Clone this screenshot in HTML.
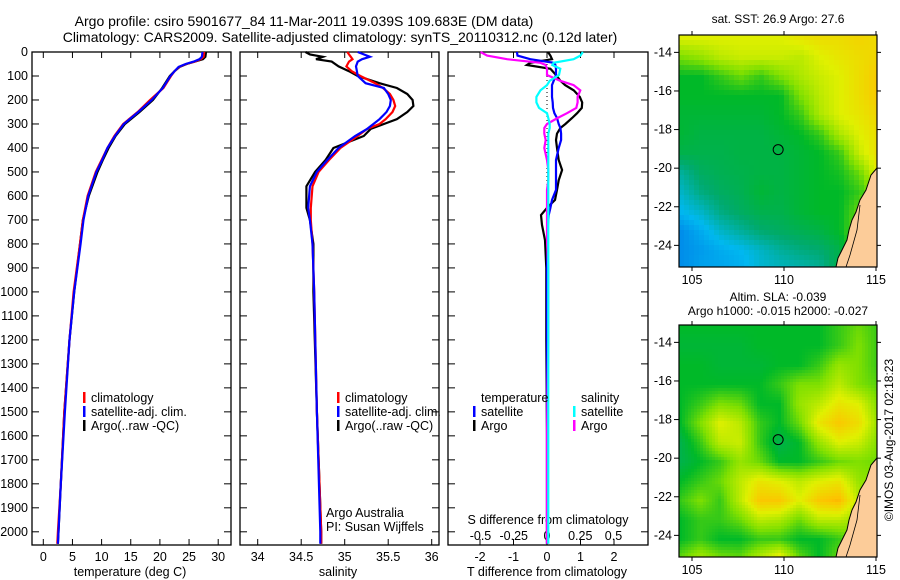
<!DOCTYPE html>
<html><head><meta charset="utf-8">
<style>
body{margin:0;background:#fff;}
svg{display:block;font-family:"Liberation Sans",sans-serif;}
text{fill:#000;}
</style></head>
<body>
<svg id="c" width="900" height="580" viewBox="0 0 900 580">
<text x="304" y="26" font-size="14" text-anchor="middle">Argo profile: csiro 5901677_84 11-Mar-2011 19.039S 109.683E (DM data)</text>
<text x="340" y="42" font-size="14" text-anchor="middle">Climatology: CARS2009. Satellite-adjusted climatology: synTS_20110312.nc (0.12d later)</text>
<g id="g"></g>
</svg>
<script>
// ---- data ----
const tDepth=[0,20,30,40,50,62,80,100,150,200,250,300,350,400,450,500,600,700,800,1000,1200,1500,1800,2000,2050];
const tArgo=[27.9,27.8,27.4,26.0,24.6,23.4,22.5,21.7,20.4,18.8,16.5,14.0,12.4,11.2,10.2,9.3,7.8,6.8,6.3,5.3,4.5,3.6,3.0,2.6,2.5];
const tClim=[27.6,27.5,27.0,26.0,24.5,23.3,22.5,21.9,20.6,18.3,16.2,13.7,12.2,11.0,10.0,9.0,7.6,6.8,6.3,5.2,4.5,3.6,3.0,2.5,2.4];
const tSat=[27.3,27.2,26.8,25.8,24.4,23.2,22.5,21.8,20.5,18.6,16.3,13.8,12.3,11.0,10.1,9.1,7.7,6.9,6.4,5.3,4.5,3.7,3.0,2.6,2.5];
const sDepth=[0,10,20,30,40,60,80,100,130,150,175,200,225,250,280,300,320,350,400,450,500,560,650,700,800,1000,1500,2000,2050];
const sArgo=[34.55,34.6,34.75,34.67,34.85,34.93,35.05,35.15,35.4,35.6,35.72,35.78,35.79,35.72,35.6,35.45,35.3,35.22,34.87,34.78,34.66,34.56,34.56,34.6,34.64,34.64,34.68,34.73,34.73];
const sClim=[35.03,35.05,35.07,35.09,35.05,35.02,35.08,35.18,35.35,35.44,35.52,35.56,35.58,35.55,35.47,35.4,35.26,35.15,34.95,34.82,34.7,34.63,34.61,34.61,34.63,34.65,34.68,34.73,34.73];
const sSat=[35.15,35.22,35.29,35.2,35.15,35.13,35.14,35.15,35.24,35.45,35.5,35.53,35.52,35.48,35.4,35.33,35.26,35.12,34.93,34.8,34.68,34.6,34.58,34.6,34.63,34.65,34.68,34.72,34.72];
const dDepth=[0,15,30,45,54,70,96,120,138,160,187,210,233,255,275,300,317,340,367,400,450,492,535,575,617,650,680,721,784,900,1200,1600,2050];
const dTArgo=[0.03,0.1,0.15,-0.5,-0.6,0.1,0.27,0.4,0.54,0.8,0.98,1.05,1.04,0.9,0.75,0.55,0.4,0.3,0.27,0.3,0.35,0.45,0.35,0.3,0.24,0.0,-0.18,-0.15,-0.06,-0.02,-0.02,0.0,0.0];
const dTSat=[-0.9,-0.88,-0.5,0.2,0.25,0.27,0.27,0.2,0.15,0.15,0.15,0.17,0.18,0.22,0.3,0.35,0.4,0.42,0.42,0.35,0.27,0.27,0.27,0.27,0.15,0.1,0.05,0.03,0.02,0.0,0.0,0.0,0.0];
const dSArgo=[-0.5,-0.45,-0.3,-0.05,-0.01,0.0,0.0,0.1,0.2,0.25,0.23,0.23,0.22,0.15,0.08,0.0,-0.02,-0.02,-0.01,-0.02,0.0,0.01,0.01,0.0,0.0,0.0,0.0,0.0,0.0,0.01,0.01,0.0,0.0];
const dSSat=[0.27,0.25,0.2,0.05,0.04,0.1,0.09,0.02,0.0,-0.05,-0.08,-0.08,-0.06,0.0,0.01,0.02,0.02,0.01,0.01,0.01,0.01,0.01,0.01,0.01,0.01,0.01,0.01,0.01,0.01,0.01,0.01,0.01,0.01];
const depthTicks=[0,100,200,300,400,500,600,700,800,900,1000,1100,1200,1300,1400,1500,1600,1700,1800,1900,2000];
const tTicks=[0,5,10,15,20,25,30];
const sTicks=[34,34.5,35,35.5,36];
const dTTicks=[-2,-1,0,1,2];
const dSTicks=[-0.5,-0.25,0,0.25,0.5];
const lonTicks=[105,110,115];
const latTicks=[-14,-16,-18,-20,-22,-24];
const sstGrid=[
[.75,.75,.75,.75,.75,.75,.78,.8,.8,.82,.8],
[.62,.65,.7,.72,.72,.72,.7,.75,.78,.8,.82],
[.5,.5,.55,.6,.55,.62,.68,.72,.75,.8,.85],
[.5,.5,.5,.5,.5,.5,.62,.7,.75,.8,.85],
[.48,.48,.48,.48,.48,.5,.55,.68,.75,.78,.82],
[.48,.46,.46,.46,.46,.48,.5,.55,.68,.75,.8],
[.45,.45,.45,.46,.46,.46,.48,.5,.55,.72,.8],
[.35,.42,.44,.45,.46,.46,.48,.5,.52,.6,.78],
[.3,.38,.42,.44,.48,.46,.48,.5,.5,.55,.65],
[.25,.3,.38,.42,.45,.45,.48,.5,.5,.6,.9],
[.15,.22,.3,.35,.4,.42,.44,.46,.5,.62,.6],
[.15,.18,.22,.25,.3,.35,.38,.4,.45,.6,.6],
[.15,.2,.2,.22,.28,.3,.32,.35,.45,.6,.6]];
const slaGrid=[
[.5,.5,.5,.5,.5,.5,.5,.5,.55,.6,.55],
[.48,.48,.48,.48,.5,.5,.5,.5,.55,.62,.55],
[.5,.5,.48,.48,.48,.5,.5,.55,.65,.62,.55],
[.5,.5,.5,.5,.5,.55,.62,.62,.7,.62,.58],
[.5,.55,.62,.6,.5,.5,.65,.7,.78,.75,.62],
[.5,.62,.75,.7,.55,.5,.6,.78,.85,.8,.65],
[.45,.55,.7,.72,.55,.45,.5,.65,.75,.72,.62],
[.45,.5,.55,.65,.6,.5,.5,.55,.6,.62,.6],
[.5,.55,.6,.7,.78,.75,.7,.75,.78,.65,.62],
[.55,.62,.55,.7,.85,.85,.75,.85,.88,.7,.6],
[.5,.55,.55,.6,.7,.68,.6,.7,.7,.65,.6],
[.5,.55,.5,.5,.55,.55,.5,.5,.55,.62,.6],
[.6,.68,.62,.6,.7,.8,.6,.5,.6,.65,.6]];

const NS="http://www.w3.org/2000/svg";
const G=document.getElementById('g');
function el(tag,attrs,parent){const e=document.createElementNS(NS,tag);for(const k in attrs)e.setAttribute(k,attrs[k]);(parent||G).appendChild(e);return e;}
function txt(x,y,s,size,anchor,parent){const t=el('text',{x:x,y:y,'font-size':size,'text-anchor':anchor||'middle'},parent);t.textContent=s;return t;}
const Y=d=>52+0.2399*d;
const yTop=52,yBot=545;
const xT=v=>43.3+5.83*v;
const xS=v=>257.7+87*(v-34);
const xD=v=>547+33.5*v;
const xDS=v=>547+133*v;

function frame(x0,x1,name){
  const r=el('rect',{x:x0,y:yTop,width:x1-x0,height:yBot-yTop,fill:'none',stroke:'#000','stroke-width':1.3});
  
  
  depthTicks.forEach(d=>{el('line',{x1:x0,x2:x0+7,y1:Y(d),y2:Y(d),stroke:'#000'});el('line',{x1:x1,x2:x1-7,y1:Y(d),y2:Y(d),stroke:'#000'});});
}
function line(xs,vals,depths,fx,color,name){
  const pts=vals.map((v,i)=>fx(v).toFixed(1)+','+Y(depths[i]).toFixed(1)).join(' ');
  const p=el('polyline',{points:pts,fill:'none',stroke:color,'stroke-width':2.2});
  
  
}
// panel 1
frame(32,231,'temperature-panel');
depthTicks.forEach(d=>{const t=txt(28,Y(d)+4,String(d),12.5,'end');});
tTicks.forEach(v=>{el('line',{x1:xT(v),x2:xT(v),y1:yBot,y2:yBot-6,stroke:'#000'});el('line',{x1:xT(v),x2:xT(v),y1:yTop,y2:yTop+6,stroke:'#000'});const t=txt(xT(v),561,String(v),12.5);});
{const t=txt(130,576,'temperature (deg C)',12.5);}
line(0,tArgo,tDepth,xT,'#000','temperature-argo-line');
line(0,tClim,tDepth,xT,'#f00','temperature-climatology-line');
line(0,tSat,tDepth,xT,'#00f','temperature-satellite-line');
function legend(x,y,items,name){
  const g=el('g',{});
  
  
  items.forEach((it,i)=>{el('rect',{x:x,y:y+i*14-10,width:2.5,height:11,fill:it[1]},g);txt(x+8,y+i*14,it[0],12.5,'start',g);});
}
legend(83,402,[['climatology','#f00'],['satellite-adj. clim.','#00f'],['Argo(..raw -QC)','#000']],'temperature-legend');
// panel 2
frame(240,439,'salinity-panel');
sTicks.forEach(v=>{el('line',{x1:xS(v),x2:xS(v),y1:yBot,y2:yBot-6,stroke:'#000'});el('line',{x1:xS(v),x2:xS(v),y1:yTop,y2:yTop+6,stroke:'#000'});const t=txt(xS(v),561,String(v),12.5);});
{const t=txt(338,576,'salinity',12.5);}
line(0,sArgo,sDepth,xS,'#000','salinity-argo-line');
line(0,sClim,sDepth,xS,'#f00','salinity-climatology-line');
line(0,sSat,sDepth,xS,'#00f','salinity-satellite-line');
legend(337,402,[['climatology','#f00'],['satellite-adj. clim.','#00f'],['Argo(..raw -QC)','#000']],'salinity-legend');
{const t=txt(326,517,'Argo Australia',12.5,'start');}
{const t=txt(326,531,'PI: Susan Wijffels',12.5,'start');}
// panel 3
frame(448,648,'difference-panel');
el('line',{x1:547,x2:547,y1:60,y2:200,stroke:'#000','stroke-dasharray':'1,3'});
dTTicks.forEach(v=>{el('line',{x1:xD(v),x2:xD(v),y1:yBot,y2:yBot-6,stroke:'#000'});el('line',{x1:xD(v),x2:xD(v),y1:yTop,y2:yTop+6,stroke:'#000'});const t=txt(xD(v),561,String(v),12.5);});
dSTicks.forEach(v=>{const t=txt(xDS(v),540,String(v),12.5);});
{const t=txt(548,524,'S difference from climatology',12.5);}
{const t=txt(547,576,'T difference from climatology',12.5);}
line(0,dTArgo,dDepth,xD,'#000','t-diff-argo-line');
line(0,dTSat,dDepth,xD,'#00f','t-diff-satellite-line');
line(0,dSArgo,dDepth,xDS,'#f0f','s-diff-argo-line');
line(0,dSSat,dDepth,xDS,'#0ff','s-diff-satellite-line');
{const g=el('g',{});
 txt(481,402,'temperature',12.5,'start',g);txt(581,402,'salinity',12.5,'start',g);
 el('rect',{x:473,y:406,width:2.5,height:11,fill:'#00f'},g);txt(481,416,'satellite',12.5,'start',g);
 el('rect',{x:473,y:420,width:2.5,height:11,fill:'#000'},g);txt(481,430,'Argo',12.5,'start',g);
 el('rect',{x:573,y:406,width:2.5,height:11,fill:'#0ff'},g);txt(581,416,'satellite',12.5,'start',g);
 el('rect',{x:573,y:420,width:2.5,height:11,fill:'#f0f'},g);txt(581,430,'Argo',12.5,'start',g);}
// maps
const stops=[[0,[0,80,224]],[.25,[0,184,240]],[.4,[0,170,110]],[.5,[0,185,40]],[.62,[128,224,0]],[.75,[224,240,0]],[.87,[255,192,0]],[1,[192,80,0]]];
function cmap(v){v=Math.max(0,Math.min(1,v));for(let i=1;i<stops.length;i++){if(v<=stops[i][0]){const a=stops[i-1],b=stops[i],t=(v-a[0])/(b[0]-a[0]);return 'rgb('+a[1].map((c,k)=>Math.round(c+(b[1][k]-c)*t)).join(',')+')';}}return 'rgb(192,80,0)';}
function interp(grid,fx,fy){const r=fy*(grid.length-1),c=fx*(grid[0].length-1);const r0=Math.min(Math.floor(r),grid.length-2),c0=Math.min(Math.floor(c),grid[0].length-2);const tr=r-r0,tc=c-c0;return grid[r0][c0]*(1-tr)*(1-tc)+grid[r0][c0+1]*(1-tr)*tc+grid[r0+1][c0]*tr*(1-tc)+grid[r0+1][c0+1]*tr*tc;}
const mx0=679,mx1=877;
const lonX=l=>692+18.4*(l-105);
function map(y0,grid,cell,name,t1,t2){
  const y1=y0+232;
  const g=el('g',{});
  
  
  for(let y=y0;y<y1;y+=cell)for(let x=mx0;x<mx1;x+=cell){
    const v=interp(grid,(x-mx0)/(mx1-mx0),(y-y0)/(y1-y0));
    el('rect',{x:x,y:y,width:Math.min(cell,mx1-x)+0.3,height:Math.min(cell,y1-y)+0.3,fill:cmap(v)},g);}
  const o=y0-35;
  if(name==='sst-map')el('polygon',{points:[[877,185],[866,190],[860,200],[856,212],[877,212]].map(p=>p[0]+','+(p[1]+o)).join(' '),fill:'#c05a00'},g);
  const coast=[[877,168],[871,175],[866,190],[860,200],[856,212],[852,220],[849,230],[847,240],[842,250],[838,258],[836,267]];
  el('polygon',{points:coast.concat([[877,267]]).map(p=>p[0]+','+(p[1]+o)).join(' '),fill:'#fccc99',stroke:'#000','stroke-width':1},g);
  el('polyline',{points:[[860,205],[857,230],[850,255],[846,267]].map(p=>p[0]+','+(p[1]+o)).join(' '),fill:'none',stroke:'#000','stroke-width':0.8},g);
  el('rect',{x:mx0,y:y0,width:mx1-mx0,height:232,fill:'none',stroke:'#000','stroke-width':1.2},g);
  latTicks.forEach(l=>{const yy=y0+(-13.1-l)*19.3;el('line',{x1:mx0-5,x2:mx0,y1:yy,y2:yy,stroke:'#000'},g);el('line',{x1:mx1,x2:mx1+4,y1:yy,y2:yy,stroke:'#000'},g);txt(mx0-7,yy+4,String(l),12.5,'end',g);});
  lonTicks.forEach(l=>{const xx=lonX(l);el('line',{x1:xx,x2:xx,y1:y1,y2:y1+4,stroke:'#000'},g);el('line',{x1:xx,x2:xx,y1:y0,y2:y0-4,stroke:'#000'},g);txt(xx,y1+17,String(l),12.5,'middle',g);});
  el('circle',{cx:lonX(109.683),cy:y0+(-13.1+19.039)*19.3,r:5,fill:'none',stroke:'#000'},g);
  if(t2){txt(778,y0-24,t1,12,'middle',g);txt(778,y0-10,t2,12,'middle',g);}else txt(778,y0-12,t1,12,'middle',g);
}
map(35,sstGrid,5,'sst-map','sat. SST: 26.9 Argo: 27.6');
map(325,slaGrid,3,'sla-map','Altim. SLA: -0.039','Argo h1000: -0.015 h2000: -0.027');
{const t=txt(0,0,'©IMOS 03-Aug-2017 02:18:23',12,'middle');t.setAttribute('transform','translate(893,440) rotate(-90)');}
</script>
</body></html>
